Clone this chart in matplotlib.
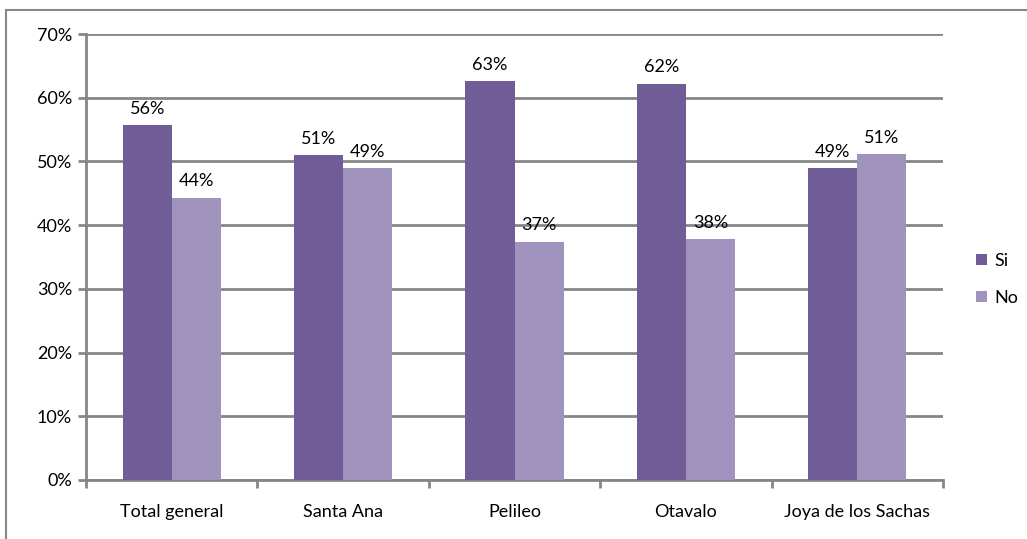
import matplotlib.pyplot as plt
import numpy as np
from matplotlib.patches import Rectangle

categorias = ['Total general', 'Santa Ana', 'Pelileo', 'Otavalo', 'Joya de los Sachas']
si = [55.7, 51.0, 62.6, 62.2, 48.9]
no = [44.3, 49.0, 37.4, 37.8, 51.1]
etiquetas_si = ['56%', '51%', '63%', '62%', '49%']
etiquetas_no = ['44%', '49%', '37%', '38%', '51%']

plt.rcParams['font.family'] = ['Lato', 'DejaVu Sans']
gris = '#868686'
c_si = '#705D98'
c_no = '#A093BD'
fs = 13

fig = plt.figure(figsize=(10.27, 5.39), dpi=100)
ax = fig.add_axes([86/1027, 59/539, 857/1027, 446/539])

# borde exterior
fig.patches.append(Rectangle((6/1027, -0.05), 1.05, (529/539) + 0.05, transform=fig.transFigure,
                             fill=False, edgecolor=gris, linewidth=1.5))

x = np.arange(len(categorias))
w = 0.286
ax.bar(x - w/2, si, w, color=c_si, label='Si', zorder=3)
ax.bar(x + w/2, no, w, color=c_no, label='No', zorder=3)

for i in range(len(categorias)):
    ax.text(x[i] - w/2, si[i] + 1.3, etiquetas_si[i], ha='center', va='bottom', fontsize=fs)
    ax.text(x[i] + w/2, no[i] + 1.3, etiquetas_no[i], ha='center', va='bottom', fontsize=fs)

ax.set_xlim(-0.5, len(categorias) - 0.5)
ax.set_ylim(0, 70)
ax.set_yticks(np.arange(0, 71, 10))
ax.set_yticklabels([f'{v}%' for v in range(0, 71, 10)], fontsize=fs)
ax.yaxis.grid(True, color=gris, linewidth=2, zorder=0)
ax.set_axisbelow(True)

ax.set_xticks(x)
ax.set_xticklabels(categorias, fontsize=fs)
ax.set_xticks(np.arange(-0.5, len(categorias) + 0.5, 1), minor=True)
ax.tick_params(axis='x', which='major', length=0, pad=17)
ax.tick_params(axis='x', which='minor', length=6, width=2, color=gris, direction='out')
ax.tick_params(axis='y', length=6, width=2, color=gris, direction='out', pad=4)

for s in ['top', 'right']:
    ax.spines[s].set_visible(False)
for s in ['left', 'bottom']:
    ax.spines[s].set_color(gris)
    ax.spines[s].set_linewidth(2)

ax.legend(loc='center left', bbox_to_anchor=(1.02, 0.45), frameon=False, fontsize=fs,
          handlelength=0.6, handleheight=0.6, labelspacing=1.15, handletextpad=0.4)

plt.savefig('out.png', dpi=100)
